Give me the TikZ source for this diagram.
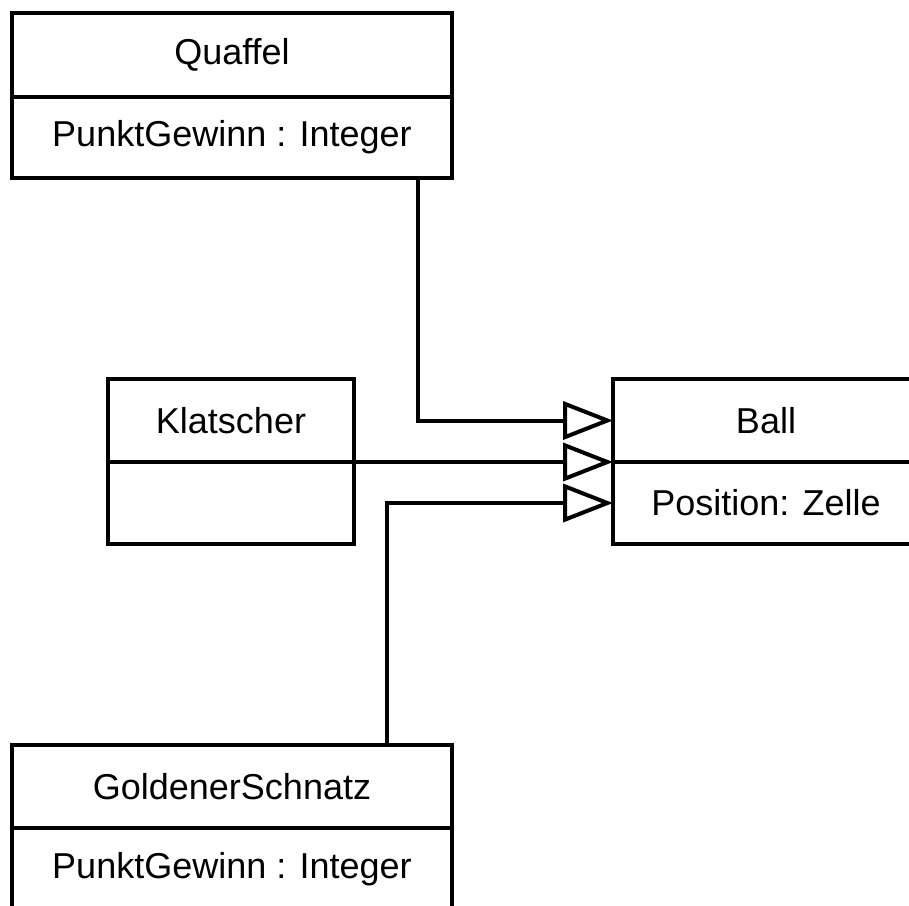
\documentclass[tikz,border=0pt]{standalone}
\usepackage{fontspec}
\setmainfont{Liberation Sans}
\usetikzlibrary{arrows.meta}
\begin{document}
\begin{tikzpicture}[x=1pt,y=1pt,
  comp/.style={draw, line width=4pt, rectangle, inner sep=0pt, outer sep=0pt, anchor=center,
    font=\fontsize{36}{43}\selectfont},
  inh/.style={draw, line width=4pt, line join=miter,
    -{Triangle[open, length=50pt, width=38pt, fill=white]}}]
\clip (0,0) rectangle (909,-905);
\fill[white] (0,0) rectangle (909,-905);
% Quaffel
\node[comp, minimum width=440pt, minimum height=84pt] (qh) at (232,-55) {Quaffel};
\node[comp, minimum width=440pt, minimum height=81pt] (qa) at (232,-137.5) {PunktGewinn : Integer};
% Klatscher
\node[comp, minimum width=246pt, minimum height=83pt] (kh) at (231,-420.5) {Klatscher};
\node[comp, minimum width=246pt, minimum height=82pt] (ka) at (231,-503) {};
% Ball
\node[comp, minimum width=306pt, minimum height=83pt] (bh) at (766,-420.5) {Ball};
\node[comp, minimum width=306pt, minimum height=82pt] (ba) at (766,-503) {Position: Zelle};
% GoldenerSchnatz
\node[comp, minimum width=440pt, minimum height=83pt] (gh) at (232,-786.5) {GoldenerSchnatz};
\node[comp, minimum width=440pt, minimum height=82pt] (ga) at (232,-869) {PunktGewinn : Integer};
% connectors
\coordinate (qx) at (418,0);
\coordinate (sx) at (386.5,0);
\draw[inh] (qa.south -| qx) |- (bh.west);
\draw[inh] (kh.south east) -- (bh.south west);
\draw[inh] (gh.north -| sx) |- (ba.west);
\end{tikzpicture}
\end{document}
